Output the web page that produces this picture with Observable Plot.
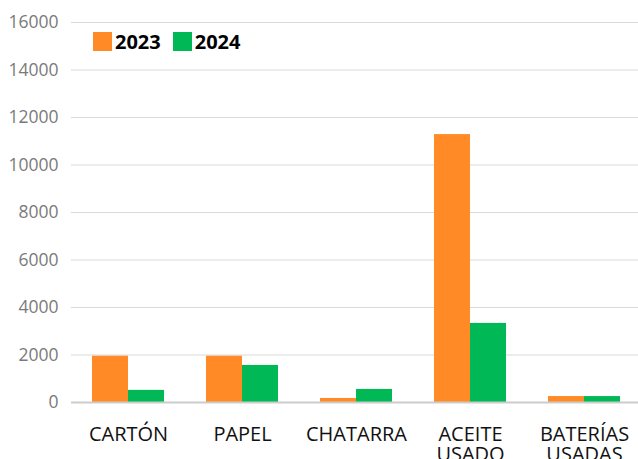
<!DOCTYPE html>
<html>
<head>
<meta charset="utf-8">
<script src="https://cdn.jsdelivr.net/npm/d3@7"></script>
<script src="https://cdn.jsdelivr.net/npm/@observablehq/plot@0.6"></script>
<style>
  html, body { margin: 0; padding: 0; background: #fff; }
  #wrap { position: relative; width: 638px; height: 459px; overflow: hidden; font-family: "Open Sans", sans-serif; }
  #legend { position: absolute; top: 28px; left: 93px; display: flex; align-items: center; font-weight: bold; font-size: 20px; color: #000; }
  .sw { display: inline-block; width: 19px; height: 19px; margin-right: 3px; }
  .item { display: flex; align-items: center; margin-right: 12px; }
</style>
</head>
<body>
<div id="wrap">
  <div id="chart"></div>
  <div id="legend"></div>
</div>
<script>
const categories = ["CARTÓN", "PAPEL", "CHATARRA", "ACEITE\nUSADO", "BATERÍAS\nUSADAS"];
const years = ["2023", "2024"];
const values2023 = [1950, 1950, 170, 11280, 250];
const values2024 = [510, 1560, 550, 3330, 250];
const yTicks = [0, 2000, 4000, 6000, 8000, 10000, 12000, 14000, 16000];
const colors = ["#FF8A26", "#00B856"];

const data = [];
categories.forEach((c, i) => {
  data.push({cat: c, year: years[0], value: values2023[i]});
  data.push({cat: c, year: years[1], value: values2024[i]});
});

const chart = Plot.plot({
  width: 638,
  height: 459,
  marginLeft: 69,
  marginRight: -4,
  marginTop: 22,
  marginBottom: 57,
  style: {fontFamily: "'Open Sans', sans-serif", background: "#fff", overflow: "visible"},
  y: {domain: [0, 16000], axis: null},
  fx: {domain: categories, padding: 0, axis: null},
  x: {domain: years, paddingInner: 0, paddingOuter: 0.55, axis: null},
  color: {domain: years, range: colors},
  marks: [
    Plot.ruleY(yTicks, {stroke: "#d9d9d9", strokeWidth: 1}),
    Plot.barY(data, {fx: "cat", x: "year", y: "value", fill: "year"}),
    Plot.ruleY([0], {stroke: "#cccccc", strokeWidth: 2}),
    Plot.axisY({ticks: yTicks, tickSize: 0, tickPadding: 13, label: null, tickFormat: d3.format("d"), fill: "#7a7a7a", fontSize: 17.5}),
    Plot.axisFx({anchor: "bottom", tickSize: 0, tickPadding: 24, label: null, fontSize: 20, lineHeight: 1.0, fill: "#111"})
  ]
});
document.getElementById("chart").appendChild(chart);

const legend = document.getElementById("legend");
years.forEach((y, i) => {
  const item = document.createElement("div");
  item.className = "item";
  const sw = document.createElement("span");
  sw.className = "sw";
  sw.style.background = colors[i];
  const t = document.createElement("span");
  t.textContent = y;
  item.appendChild(sw);
  item.appendChild(t);
  legend.appendChild(item);
});
</script>
</body>
</html>
